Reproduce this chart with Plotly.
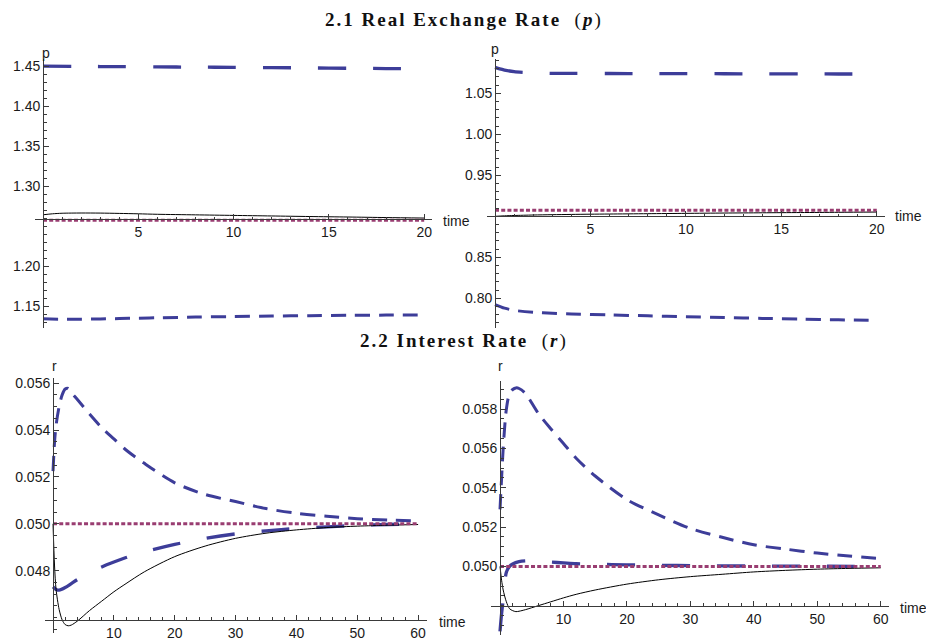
import plotly.graph_objects as go

W, H = 926, 642

# ---------------- data ----------------
# 2.1 Real exchange rate, left panel
tl_t_long = [0, 2, 4, 6, 8, 10, 12, 14, 16, 18, 20]
tl_p_long = [1.4500, 1.4497, 1.4494, 1.4491, 1.4488, 1.4485, 1.4482, 1.4478, 1.4474, 1.4470, 1.4466]
tl_t_short = [0, 1, 2, 3, 4, 5, 6, 8, 10, 12, 14, 16, 18, 20]
tl_p_short = [1.1342, 1.1337, 1.1337, 1.1341, 1.1346, 1.1351, 1.1356, 1.1364, 1.1371, 1.1377,
              1.1382, 1.1386, 1.1389, 1.1392]
tl_t_solid = [0, 0.5, 1, 2, 3, 4, 5, 6, 8, 10, 12, 14, 16, 18, 20]
tl_p_solid = [1.2643, 1.2655, 1.2662, 1.2665, 1.2664, 1.2660, 1.2655, 1.2649, 1.2642, 1.2635,
              1.2628, 1.2621, 1.2615, 1.2608, 1.2602]
tl_t_dot = [0, 20]
tl_p_dot = [1.2574, 1.2574]

# 2.1 Real exchange rate, right panel
tr_t_long = [0, 0.25, 0.5, 1, 1.5, 2, 3, 4, 6, 8, 10, 12, 14, 16, 18, 20]
tr_p_long = [1.0816, 1.0798, 1.0784, 1.0764, 1.0755, 1.0749, 1.0744, 1.0743, 1.0742, 1.0741,
             1.0740, 1.0739, 1.0738, 1.0737, 1.0736, 1.0735]
tr_t_short = [0, 0.5, 1, 2, 3, 4, 6, 8, 10, 12, 14, 16, 18, 20]
tr_p_short = [0.7924, 0.7880, 0.7853, 0.7830, 0.7818, 0.7810, 0.7797, 0.7786, 0.7775, 0.7765,
              0.7755, 0.7746, 0.7738, 0.7730]
tr_t_solid = [0, 0.5, 1, 2, 3, 4, 5, 6, 8, 10, 12, 14, 16, 18, 20]
tr_p_solid = [0.9000, 0.9006, 0.9010, 0.9016, 0.9020, 0.9023, 0.9026, 0.9028, 0.9032, 0.9036,
              0.9040, 0.9043, 0.9046, 0.9049, 0.9052]
tr_t_dot = [0, 20]
tr_p_dot = [0.9073, 0.9073]

# 2.2 Interest rate, left panel
bl_t_short = [0, 0.25, 0.5, 1, 1.5, 2, 2.5, 3, 4, 6, 8, 10, 12, 15, 20, 25, 30, 35, 40, 45, 50, 55, 60]
bl_r_short = [0.05225, 0.0535, 0.0542, 0.0550, 0.0555, 0.05575, 0.05578, 0.0556, 0.0553, 0.05468,
              0.05410, 0.05362, 0.05315, 0.05258, 0.05175, 0.05125, 0.05095, 0.05065, 0.05045,
              0.05032, 0.05022, 0.05016, 0.05012]
bl_t_long = [0, 0.5, 1, 2, 3, 4, 6, 8, 10, 12, 15, 20, 25, 30, 35, 40, 45, 50, 55, 60]
bl_r_long = [0.04731, 0.04720, 0.04717, 0.04728, 0.04745, 0.04762, 0.04790, 0.04816, 0.04837,
             0.04856, 0.04880, 0.04912, 0.04938, 0.04957, 0.04970, 0.04980, 0.04987, 0.04993,
             0.04997, 0.05000]
bl_t_solid = [0, 0.25, 0.5, 1, 1.5, 2, 2.5, 3, 4, 6, 8, 10, 12, 15, 20, 25, 30, 35, 40, 45, 50, 55, 60]
bl_r_solid = [0.0500, 0.0482, 0.0472, 0.04635, 0.0459, 0.04570, 0.04565, 0.04568, 0.04585,
              0.04630, 0.04670, 0.04710, 0.04745, 0.04795, 0.04860, 0.04905, 0.04938, 0.04960,
              0.04974, 0.04984, 0.04990, 0.04994, 0.04997]
bl_t_dot = [0, 60]
bl_r_dot = [0.0500, 0.0500]

# 2.2 Interest rate, right panel
br_t_short = [0, 0.25, 0.5, 1, 1.5, 2, 2.5, 3, 4, 6, 8, 10, 12, 15, 20, 25, 30, 35, 40, 45, 50, 55, 60]
br_r_short = [0.0529, 0.0545, 0.0560, 0.0580, 0.0588, 0.0590, 0.05908, 0.05905, 0.0588, 0.0578,
              0.0570, 0.05625, 0.0555, 0.0546, 0.0534, 0.05262, 0.05193, 0.05148, 0.05110,
              0.05088, 0.05068, 0.05053, 0.05040]
br_t_long = [0, 0.25, 0.5, 1, 1.5, 2, 3, 4, 6, 8, 10, 12, 15, 20, 25, 30, 40, 50, 60]
br_r_long = [0.0467, 0.0476, 0.0483, 0.0497, 0.0500, 0.05012, 0.05024, 0.05028, 0.05027, 0.05022,
             0.05018, 0.05014, 0.05011, 0.05008, 0.05006, 0.05004, 0.05002, 0.05001, 0.05000]
br_t_solid = [0, 0.25, 0.5, 1, 1.5, 2, 2.5, 3, 4, 6, 8, 10, 12, 15, 20, 25, 30, 35, 40, 45, 50, 55, 60]
br_r_solid = [0.0500, 0.0493, 0.0488, 0.0482, 0.04785, 0.04775, 0.0477, 0.04772, 0.04780, 0.04800,
              0.04820, 0.04840, 0.04858, 0.04880, 0.04910, 0.04932, 0.04948, 0.04960, 0.04972,
              0.04980, 0.04986, 0.04990, 0.04993]
br_t_dot = [0, 60]
br_r_dot = [0.0500, 0.0500]

# tick labels
top_x_ticks = [5, 10, 15, 20]
bot_x_ticks = [10, 20, 30, 40, 50, 60]
tl_y_ticks = [1.15, 1.20, 1.30, 1.35, 1.40, 1.45]
tr_y_ticks = [0.80, 0.85, 0.95, 1.00, 1.05]
bl_y_ticks = [0.048, 0.050, 0.052, 0.054, 0.056]
br_y_ticks = [0.050, 0.052, 0.054, 0.056, 0.058]

titles = ["2.1 Real Exchange Rate", "2.2 Interest Rate"]
title_vars = ["p", "r"]

# ---------------- styling ----------------
BLUE = "rgb(61,61,153)"
PURPLE = "rgb(153,61,113)"
AXIS = "#3a3a3a"
LABFONT = dict(family="Liberation Sans, Arial, sans-serif", size=14, color="#1a1a1a")

panels = [
    dict(box=(35, 432, 56, 327), xr=[-0.42, 20.41], yr=[1.1222, 1.4593], ycross=1.259,
         xt=top_x_ticks, xfmt="{:d}", xminor=1, yt=tl_y_ticks, yfmt="{:.2f}", yminor=0.01, ylab="p",
         series=[(tl_t_long, tl_p_long, "long"), (tl_t_short, tl_p_short, "short"),
                 (tl_t_solid, tl_p_solid, "solid"), (tl_t_dot, tl_p_dot, "dot")],
         time_shift=(9, -2), lab_shift=(3, 0)),
    dict(box=(487, 885, 56, 327), xr=[-0.42, 20.43], yr=[0.7632, 1.0922], ycross=0.900,
         xt=top_x_ticks, xfmt="{:d}", xminor=1, yt=tr_y_ticks, yfmt="{:.2f}", yminor=0.01, ylab="p",
         series=[(tr_t_long, tr_p_long, "long"), (tr_t_short, tr_p_short, "short"),
                 (tr_t_solid, tr_p_solid, "solid"), (tr_t_dot, tr_p_dot, "dot")],
         time_shift=(8, 0), lab_shift=(0, 4)),
    dict(box=(45, 427, 377, 633), xr=[-1.32, 61.46], yr=[0.04534, 0.05621], ycross=0.0459,
         xt=bot_x_ticks, xfmt="{:d}", xminor=2, yt=bl_y_ticks, yfmt="{:.3f}", yminor=0.0005, ylab="r",
         series=[(bl_t_long, bl_r_long, "long"), (bl_t_short, bl_r_short, "short"),
                 (bl_t_solid, bl_r_solid, "solid"), (bl_t_dot, bl_r_dot, "dot")],
         time_shift=(10, -2), lab_shift=(1, 6)),
    dict(box=(491, 889, 380, 635), xr=[-1.42, 61.3], yr=[0.04651, 0.05942], ycross=0.048,
         xt=bot_x_ticks, xfmt="{:d}", xminor=2, yt=br_y_ticks, yfmt="{:.3f}", yminor=0.0005, ylab="r",
         series=[(br_t_long, br_r_long, "long"), (br_t_short, br_r_short, "short"),
                 (br_t_solid, br_r_solid, "solid"), (br_t_dot, br_r_dot, "dot")],
         time_shift=(9, -2), lab_shift=(0, 9)),
]

styles = {
    "long": dict(color=BLUE, width=3.3, dash="28px,27px"),
    "short": dict(color=BLUE, width=3.0, dash="15px,9px"),
    "solid": dict(color="black", width=1.0),
    "dot": dict(color=PURPLE, width=3.0, dash="4px,2.2px"),
}

fig = go.Figure()
layout = dict(width=W, height=H, margin=dict(l=0, r=0, t=0, b=0),
              paper_bgcolor="white", plot_bgcolor="white", showlegend=False)
annotations = []

for i, pn in enumerate(panels):
    n = "" if i == 0 else str(i + 1)
    xa, ya = "x" + n, "y" + n
    x0p, x1p, y0p, y1p = pn["box"]
    xdom = [x0p / W, x1p / W]
    ydom = [1 - y1p / H, 1 - y0p / H]
    xr, yr = pn["xr"], pn["yr"]
    xpos = ydom[0] + (pn["ycross"] - yr[0]) / (yr[1] - yr[0]) * (ydom[1] - ydom[0])
    ypos = xdom[0] + (0 - xr[0]) / (xr[1] - xr[0]) * (xdom[1] - xdom[0])

    for t, v, kind in pn["series"]:
        fig.add_trace(go.Scatter(x=t, y=v, mode="lines", xaxis=xa, yaxis=ya,
                                 line=dict(shape="spline", smoothing=0.8, **styles[kind]),
                                 hoverinfo="skip"))

    common = dict(showgrid=False, zeroline=False, showline=True, linecolor=AXIS, linewidth=1,
                  ticks="inside", ticklen=5, tickwidth=1, tickcolor=AXIS, tickfont=LABFONT,
                  tickmode="array", anchor="free", fixedrange=True)
    layout["xaxis" + n] = dict(common, domain=xdom, range=xr, position=xpos, side="bottom",
                               tickvals=pn["xt"], ticktext=[pn["xfmt"].format(v) for v in pn["xt"]],
                               minor=dict(tickmode="linear", tick0=0, dtick=pn["xminor"],
                                          ticks="inside", ticklen=2.5, tickcolor=AXIS))
    layout["yaxis" + n] = dict(common, domain=ydom, range=yr, position=ypos, side="left",
                               tickvals=pn["yt"], ticktext=[pn["yfmt"].format(v) for v in pn["yt"]],
                               minor=dict(tickmode="linear", tick0=0, dtick=pn["yminor"],
                                          ticks="inside", ticklen=2.5, tickcolor=AXIS))

    annotations.append(dict(xref=xa, yref=ya, x=xr[1], y=pn["ycross"], text="time",
                            showarrow=False, xanchor="left", yanchor="middle",
                            xshift=pn["time_shift"][0], yshift=pn["time_shift"][1],
                            font=LABFONT))
    annotations.append(dict(xref=xa, yref=ya, x=0, y=yr[1], text=pn["ylab"],
                            showarrow=False, xanchor="center", yanchor="bottom",
                            xshift=pn["lab_shift"][0], yshift=pn["lab_shift"][1] - 4,
                            font=LABFONT))

for title, var, yc in zip(titles, title_vars, [17, 340]):
    annotations.append(dict(xref="paper", yref="paper", x=464 / W, y=1 - yc / H,
                            xanchor="center", yanchor="middle", showarrow=False,
                            text='<span style="letter-spacing:2px">' + title +
                                 '  <span style="font-weight:normal">(</span><i>' + var +
                                 '</i><span style="font-weight:normal">)</span></span>',
                            font=dict(family="Liberation Serif, Times New Roman, serif",
                                      size=19, color="#111", weight="bold")))

layout["annotations"] = annotations
fig.update_layout(**layout)
fig.write_html("out.html")
